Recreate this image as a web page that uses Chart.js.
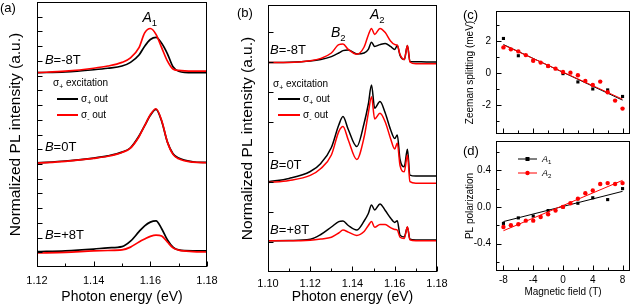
<!DOCTYPE html>
<html>
<head>
<meta charset="utf-8">
<script src="https://cdn.jsdelivr.net/npm/chart.js@4.4.1/dist/chart.umd.min.js"></script>
<style>
  body { margin: 0; background: #fff; }
  #wrap { position: relative; width: 634px; height: 307px; overflow: hidden; }
  canvas { position: absolute; }
</style>
</head>
<body>
<div id="wrap">
  <canvas id="pa" width="230" height="307" style="left:0;top:0"></canvas>
  <canvas id="pb" width="240" height="307" style="left:215px;top:0"></canvas>
  <canvas id="pc" width="194" height="145" style="left:440px;top:0"></canvas>
  <canvas id="pd" width="194" height="177" style="left:440px;top:130px"></canvas>
</div>
<script>
// ---- panel (a): A1 peak, offset spectra ----
const aEnergy = [1.120, 1.130, 1.140, 1.145, 1.150, 1.153, 1.156, 1.158, 1.160, 1.162, 1.164, 1.166, 1.168, 1.170, 1.175, 1.180];
const aM8Plus  = [13.2, 13.25, 13.4, 13.5, 13.65, 13.9, 14.4, 15.0, 15.45, 15.6, 15.2, 14.5, 13.6, 13.3, 13.2, 13.2];
const aM8Minus = [13.2, 13.3, 13.5, 13.65, 13.9, 14.2, 14.9, 15.9, 16.2, 15.8, 14.9, 14.0, 13.45, 13.35, 13.3, 13.3];
const a0Plus   = [7.07, 7.2, 7.4, 7.55, 7.8, 8.1, 8.9, 9.6, 10.3, 10.7, 9.9, 8.5, 7.7, 7.4, 7.15, 7.1];
const a0Minus  = [7.05, 7.18, 7.38, 7.52, 7.78, 8.08, 8.85, 9.6, 10.35, 10.75, 9.95, 8.5, 7.65, 7.35, 7.12, 7.08];
const aP8Plus  = [1.04, 1.1, 1.22, 1.3, 1.38, 1.75, 2.4, 2.8, 3.05, 3.13, 2.6, 1.85, 1.35, 1.16, 1.1, 1.1];
const aP8Minus = [0.95, 1.0, 1.09, 1.12, 1.16, 1.35, 1.7, 1.9, 2.08, 2.17, 2.1, 1.7, 1.3, 1.15, 1.05, 1.02];
const aTicks = [1.12, 1.14, 1.16, 1.18];

// ---- panel (b): B2 / A2 peaks ----
const bEnergy = [1.100, 1.110, 1.120, 1.125, 1.130, 1.1335, 1.1355, 1.138, 1.142, 1.1455, 1.1475, 1.149, 1.1505,
                 1.153, 1.1555, 1.158, 1.160, 1.1612, 1.1625, 1.1645, 1.166, 1.1672, 1.170, 1.175, 1.180];
const bM8Plus  = [6.98, 6.99, 7.03, 7.08, 7.18, 7.30, 7.38, 7.40, 7.27, 7.30, 7.42, 7.66, 7.52, 7.58, 7.62, 7.52, 7.42, 7.55, 7.22, 7.08, 7.55, 7.02, 7.01, 7.0, 7.0];
const bM8Minus = [6.98, 6.98, 7.04, 7.12, 7.30, 7.58, 7.60, 7.42, 7.26, 7.50, 7.90, 8.12, 7.92, 8.12, 7.98, 7.70, 7.58, 7.56, 7.25, 7.08, 7.55, 7.00, 6.94, 6.94, 6.94];
const b0Plus   = [3.01, 3.12, 3.35, 3.62, 4.15, 4.90, 5.18, 4.75, 4.18, 4.96, 5.60, 6.23, 5.46, 5.68, 5.30, 4.75, 4.45, 4.57, 3.75, 3.51, 4.09, 3.23, 3.20, 3.20, 3.20];
const b0Minus  = [2.98, 3.05, 3.22, 3.45, 3.90, 4.68, 4.85, 4.40, 3.75, 4.50, 5.30, 5.84, 5.10, 5.29, 5.00, 4.45, 4.10, 4.30, 3.55, 3.34, 3.90, 3.01, 2.96, 2.96, 2.96];
const bP8Plus  = [1.04, 1.05, 1.09, 1.25, 1.50, 1.68, 1.70, 1.55, 1.40, 1.70, 1.95, 2.23, 2.07, 2.27, 2.05, 1.80, 1.65, 1.71, 1.23, 1.17, 1.49, 1.09, 1.07, 1.07, 1.07];
const bP8Minus = [1.04, 1.04, 1.06, 1.10, 1.16, 1.30, 1.40, 1.33, 1.22, 1.35, 1.55, 1.68, 1.49, 1.58, 1.58, 1.48, 1.42, 1.40, 1.16, 1.12, 1.51, 1.07, 1.04, 1.04, 1.04];
const bTicks = [1.10, 1.12, 1.14, 1.16, 1.18];

// ---- panels (c) and (d): field dependence ----
const fieldA1 = [-8, -6, -4, -2, 0, 2, 4, 6, 8];
const fieldA2 = [-8, -7, -6, -5, -4, -3, -2, -1, 0, 1, 2, 3, 4, 5, 6, 7, 8];
const zeemanA1 = [2.18, 1.10, 0.80, 0.45, -0.02, -0.54, -0.98, -1.04, -1.45];
const zeemanA2 = [1.62, 1.50, 1.37, 1.14, 0.79, 0.67, 0.46, 0.29, 0.08, 0.04, -0.12, -0.48, -0.73, -0.52, -1.19, -1.71, -2.21];
const polA1 = [-0.18, -0.12, -0.10, -0.04, 0.00, 0.04, 0.10, 0.08, 0.20];
const polA2 = [-0.22, -0.20, -0.19, -0.15, -0.15, -0.11, -0.08, -0.04, 0.00, 0.04, 0.09, 0.15, 0.18, 0.25, 0.26, 0.25, 0.26];
const fitField = [-8, 8];
const zeemanFitA1 = [1.80, -1.68];
const zeemanFitA2 = [1.77, -1.62];
const polFitA1 = [-0.16, 0.17];
const polFitA2 = [-0.26, 0.29];
const fieldTicks = [-8, -4, 0, 4, 8];
const zeemanTicks = [-2, 0, 2];
const polTicks = [-0.4, 0.0, 0.4];

const FONT = "'Liberation Sans', Arial, Helvetica, sans-serif";
const RED = '#ff0000';
Chart.defaults.font.family = FONT;
Chart.defaults.color = '#000';

function pts(xs, ys) {
  return xs.map((x, i) => ({ x: x, y: ys[i] }));
}

function spectrum(xs, ys, color, width) {
  return {
    data: pts(xs, ys),
    borderColor: color,
    borderWidth: width,
    pointRadius: 0,
    cubicInterpolationMode: 'monotone',
    fill: false
  };
}

function markers(xs, ys, color, style) {
  return {
    data: pts(xs, ys), showLine: false,
    pointStyle: style, pointRadius: 2.2,
    pointBackgroundColor: color, pointBorderWidth: 0
  };
}

function fitLine(ys, color) {
  return { data: pts(fitField, ys), borderColor: color, borderWidth: 1, pointRadius: 0, fill: false };
}

function fontOf(p, size) {
  const s = p.sub ? size * 0.68 : size;
  return (p.i ? 'italic ' : '') + s + 'px ' + FONT;
}

function drawRich(ctx, x, y, parts, size, align) {
  let w = 0;
  parts.forEach(p => { ctx.font = fontOf(p, size); w += ctx.measureText(p.t).width; });
  let cx = align === 'center' ? x - w / 2 : x;
  ctx.textAlign = 'left';
  ctx.textBaseline = 'middle';
  parts.forEach(p => {
    ctx.font = fontOf(p, size);
    ctx.fillText(p.t, cx, y + (p.sub ? size * 0.38 : 0));
    cx += ctx.measureText(p.t).width;
  });
}

function range(a, b, step) {
  const out = [];
  for (let v = a; v <= b + 1e-9; v += step) out.push(+v.toFixed(4));
  return out;
}

// box, inward ticks, panel tag, annotations and keys
const panelDecor = {
  id: 'panelDecor',
  afterDraw(chart, _args, o) {
    const { ctx, chartArea: ca, scales: { x, y } } = chart;
    ctx.save();
    ctx.strokeStyle = '#000';
    ctx.lineWidth = 1;
    const L = Math.round(ca.left) + 0.5, T = Math.round(ca.top) + 0.5;
    const R = Math.round(ca.right) - 0.5, B = Math.round(ca.bottom) - 0.5;
    ctx.strokeRect(L, T, R - L, B - T);
    ctx.beginPath();
    const xt = (v, len) => { const p = Math.round(x.getPixelForValue(v)) + 0.5; ctx.moveTo(p, B); ctx.lineTo(p, B - len); };
    const yt = (v, len) => { const p = Math.round(y.getPixelForValue(v)) + 0.5; ctx.moveTo(L, p); ctx.lineTo(L + len, p); };
    (o.xMajor || []).forEach(v => xt(v, 5));
    (o.xMinor || []).forEach(v => xt(v, 3));
    (o.yMajor || []).forEach(v => yt(v, 5));
    (o.yMinor || []).forEach(v => yt(v, 3));
    ctx.stroke();

    ctx.fillStyle = '#000';
    if (o.tag) drawRich(ctx, ca.left + o.tag.dx, ca.top + o.tag.dy, [{ t: o.tag.t }], 13);
    (o.notes || []).forEach(n => {
      drawRich(ctx, x.getPixelForValue(n.x), y.getPixelForValue(n.y), n.parts, n.size, n.align);
    });
    (o.keys || []).forEach(k => {
      const x0 = ca.left + k.dx, yy = ca.top + k.dy;
      if (k.len) {
        ctx.strokeStyle = k.color;
        ctx.lineWidth = k.width || 2;
        ctx.beginPath();
        ctx.moveTo(x0, yy);
        ctx.lineTo(x0 + k.len, yy);
        ctx.stroke();
        if (k.marker === 'rect') {
          ctx.fillStyle = k.color;
          ctx.fillRect(x0 + k.len / 2 - 2, yy - 2, 4, 4);
        } else if (k.marker === 'circle') {
          ctx.fillStyle = k.color;
          ctx.beginPath();
          ctx.arc(x0 + k.len / 2, yy, 2.2, 0, Math.PI * 2);
          ctx.fill();
        }
      }
      ctx.fillStyle = '#000';
      drawRich(ctx, x0 + (k.len ? k.len + (k.gap || 3) : 0), yy, k.parts, k.size);
    });
    ctx.restore();
  }
};

const bParts = rest => [{ t: 'B', i: 1 }, { t: rest }];
const sigma = (sign, rest) => [{ t: 'σ' }, { t: sign, sub: 1 }, { t: rest }];

function noGrid() {
  return { display: false, drawTicks: false };
}

// ---------- (a) ----------
new Chart(document.getElementById('pa'), {
  type: 'line',
  data: {
    datasets: [
      spectrum(aEnergy, aM8Minus, RED, 1.7),
      spectrum(aEnergy, aM8Plus, '#000', 1.7),
      spectrum(aEnergy, a0Minus, RED, 1.7),
      spectrum(aEnergy, a0Plus, '#000', 1.7),
      spectrum(aEnergy, aP8Minus, RED, 1.7),
      spectrum(aEnergy, aP8Plus, '#000', 1.7)
    ]
  },
  options: {
    responsive: false, animation: false, devicePixelRatio: 1,
    layout: { padding: { left: 0, top: 2, right: 23, bottom: 0 } },
    plugins: {
      legend: { display: false }, tooltip: { enabled: false },
      panelDecor: {
        xMajor: aTicks, xMinor: [1.13, 1.15, 1.17],
        yMajor: range(1, 17, 1),
        tag: { t: '(a)', dx: -37, dy: 6 },
        notes: [
          { x: 1.1228, y: 14.0, parts: bParts('=-8T'), size: 13 },
          { x: 1.1228, y: 8.15, parts: bParts('=0T'), size: 13 },
          { x: 1.1228, y: 2.17, parts: bParts('=+8T'), size: 13 },
          { x: 1.1572, y: 16.9, parts: [{ t: 'A', i: 1 }, { t: '1', sub: 1 }], size: 14 }
        ],
        keys: [
          { dx: 16, dy: 81, parts: sigma('+', ' excitation'), size: 10 },
          { dx: 20, dy: 97, len: 21, color: '#000', parts: sigma('+', ' out'), size: 10 },
          { dx: 20, dy: 113, len: 21, color: RED, parts: sigma('-', ' out'), size: 10 }
        ]
      }
    },
    scales: {
      x: {
        type: 'linear', min: 1.12, max: 1.18,
        afterBuildTicks: s => { s.ticks = aTicks.map(v => ({ value: v })); },
        afterFit: s => { s.height = 40; },
        ticks: { callback: v => v.toFixed(2), font: { size: 11 }, padding: 7, maxRotation: 0, autoSkip: false },
        grid: noGrid(), border: { display: false },
        title: { display: true, text: 'Photon energy (eV)', font: { size: 14 }, padding: { top: 0, bottom: 1.6 } }
      },
      y: {
        min: 0, max: 18,
        afterFit: s => { s.width = 37; },
        ticks: { display: false },
        grid: noGrid(), border: { display: false },
        title: { display: true, text: 'Normalized PL intensity (a.u.)', font: { size: 15.5 }, padding: { top: 6.7, bottom: 0 } }
      }
    }
  },
  plugins: [panelDecor]
});

// ---------- (b) ----------
new Chart(document.getElementById('pb'), {
  type: 'line',
  data: {
    datasets: [
      spectrum(bEnergy, bM8Minus, RED, 1.5),
      spectrum(bEnergy, bM8Plus, '#000', 1.5),
      spectrum(bEnergy, b0Minus, RED, 1.5),
      spectrum(bEnergy, b0Plus, '#000', 1.5),
      spectrum(bEnergy, bP8Minus, RED, 1.5),
      spectrum(bEnergy, bP8Plus, '#000', 1.5)
    ]
  },
  options: {
    responsive: false, animation: false, devicePixelRatio: 1,
    layout: { padding: { left: 0, top: 5, right: 18, bottom: 0 } },
    plugins: {
      legend: { display: false }, tooltip: { enabled: false },
      panelDecor: {
        xMajor: bTicks, xMinor: [1.11, 1.13, 1.15, 1.17],
        yMajor: range(1, 8, 1),
        tag: { t: '(b)', dx: -31, dy: 8 },
        notes: [
          { x: 1.101, y: 7.4, parts: bParts('=-8T'), size: 13 },
          { x: 1.101, y: 3.54, parts: bParts('=0T'), size: 13 },
          { x: 1.101, y: 1.4, parts: bParts('=+8T'), size: 13 },
          { x: 1.1298, y: 7.97, parts: [{ t: 'B', i: 1 }, { t: '2', sub: 1 }], size: 14 },
          { x: 1.1483, y: 8.57, parts: [{ t: 'A', i: 1 }, { t: '2', sub: 1 }], size: 14 }
        ],
        keys: [
          { dx: 5, dy: 79, parts: sigma('+', ' excitation'), size: 10 },
          { dx: 10, dy: 94, len: 22, color: '#000', parts: sigma('+', ' out'), size: 10 },
          { dx: 10, dy: 110, len: 22, color: RED, parts: sigma('-', ' out'), size: 10 }
        ]
      }
    },
    scales: {
      x: {
        type: 'linear', min: 1.10, max: 1.18,
        afterBuildTicks: s => { s.ticks = bTicks.map(v => ({ value: v })); },
        afterFit: s => { s.height = 35; },
        ticks: { callback: v => v.toFixed(2), font: { size: 11 }, padding: 5, maxRotation: 0, autoSkip: false },
        grid: noGrid(), border: { display: false },
        title: { display: true, text: 'Photon energy (eV)', font: { size: 14 }, padding: { top: 0, bottom: 1.6 } }
      },
      y: {
        min: 0, max: 8.9,
        afterFit: s => { s.width = 53; },
        ticks: { display: false },
        grid: noGrid(), border: { display: false },
        title: { display: true, text: 'Normalized PL intensity (a.u.)', font: { size: 15.5 }, padding: { top: 23.7, bottom: 0 } }
      }
    }
  },
  plugins: [panelDecor]
});

// ---------- (c) ----------
new Chart(document.getElementById('pc'), {
  type: 'line',
  data: {
    datasets: [
      fitLine(zeemanFitA2, RED),
      markers(fieldA2, zeemanA2, RED, 'circle'),
      fitLine(zeemanFitA1, '#000'),
      markers(fieldA1, zeemanA1, '#000', 'rect')
    ]
  },
  options: {
    responsive: false, animation: false, devicePixelRatio: 1,
    layout: { padding: { left: 0, top: 7, right: 1, bottom: 0 } },
    plugins: {
      legend: { display: false }, tooltip: { enabled: false },
      panelDecor: {
        xMajor: fieldTicks, xMinor: [-6, -2, 2, 6],
        yMajor: zeemanTicks, yMinor: [-3, -1, 1, 3],
        tag: { t: '(c)', dx: -33, dy: 4 }
      }
    },
    scales: {
      x: {
        type: 'linear', min: -9, max: 9,
        afterFit: s => { s.height = 6; },
        ticks: { display: false },
        grid: noGrid(), border: { display: false }
      },
      y: {
        min: -3.8, max: 3.9,
        afterBuildTicks: s => { s.ticks = zeemanTicks.map(v => ({ value: v })); },
        afterFit: s => { s.width = 56; },
        ticks: { callback: v => String(v), font: { size: 10 }, padding: 5 },
        grid: noGrid(), border: { display: false },
        title: { display: true, text: 'Zeeman splitting (meV)', font: { size: 10 }, padding: { top: 24, bottom: 0 } }
      }
    }
  },
  plugins: [panelDecor]
});

// ---------- (d) ----------
new Chart(document.getElementById('pd'), {
  type: 'line',
  data: {
    datasets: [
      fitLine(polFitA2, RED),
      markers(fieldA2, polA2, RED, 'circle'),
      fitLine(polFitA1, '#000'),
      markers(fieldA1, polA1, '#000', 'rect')
    ]
  },
  options: {
    responsive: false, animation: false, devicePixelRatio: 1,
    layout: { padding: { left: 0, top: 9, right: 1, bottom: 0 } },
    plugins: {
      legend: { display: false }, tooltip: { enabled: false },
      panelDecor: {
        xMajor: fieldTicks, xMinor: [-6, -2, 2, 6],
        yMajor: polTicks, yMinor: [-0.6, -0.2, 0.2, 0.6],
        tag: { t: '(d)', dx: -33, dy: 10 },
        keys: [
          { dx: 22, dy: 18, len: 19, width: 1, color: '#000', marker: 'rect', gap: 5,
            parts: [{ t: 'A', i: 1 }, { t: '1', sub: 1 }], size: 9 },
          { dx: 22, dy: 32, len: 19, width: 1, color: RED, marker: 'circle', gap: 5,
            parts: [{ t: 'A', i: 1 }, { t: '2', sub: 1 }], size: 9 }
        ]
      }
    },
    scales: {
      x: {
        type: 'linear', min: -9, max: 9,
        afterBuildTicks: s => { s.ticks = fieldTicks.map(v => ({ value: v })); },
        afterFit: s => { s.height = 36; },
        ticks: { callback: v => String(v), font: { size: 10 }, padding: 3, maxRotation: 0, autoSkip: false },
        grid: noGrid(), border: { display: false },
        title: { display: true, text: 'Magnetic field (T)', font: { size: 10 }, padding: { top: 0, bottom: 9 } }
      },
      y: {
        min: -0.7, max: 0.72,
        afterBuildTicks: s => { s.ticks = polTicks.map(v => ({ value: v })); },
        afterFit: s => { s.width = 56; },
        ticks: { callback: v => v.toFixed(1), font: { size: 10 }, padding: 5 },
        grid: noGrid(), border: { display: false },
        title: { display: true, text: 'PL polarization', font: { size: 10 }, padding: { top: 24, bottom: 0 } }
      }
    }
  },
  plugins: [panelDecor]
});
</script>
</body>
</html>
